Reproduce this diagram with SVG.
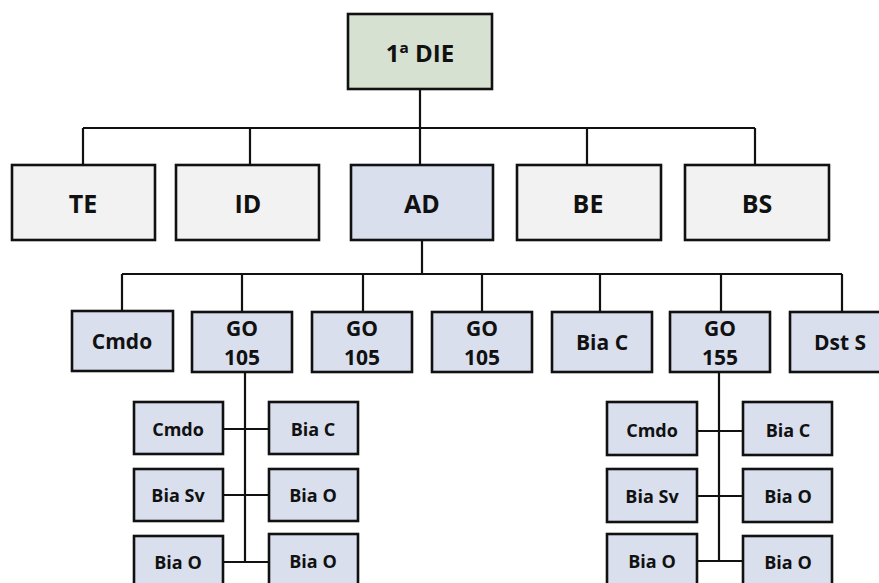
<svg xmlns="http://www.w3.org/2000/svg" width="879" height="583" viewBox="0 0 879 583">
<style>
.b{stroke:#111;stroke-width:2.6}
.g{fill:#d6e1d1}
.w{fill:#f2f2f2}
.u{fill:#d9dfed}
.t{font-family:"Open Sans","Noto Sans","DejaVu Sans",sans-serif;font-weight:bold;fill:#111;text-anchor:middle;dominant-baseline:central}
.t1{font-size:24px}
.t2{font-size:25px}
.t3{font-size:21px}
.t4{font-size:18px}
.c{stroke:#111;stroke-width:2.2;fill:none}
</style>
<rect width="879" height="583" fill="#fff"/>
<g id="connectors">
<path class="c" d="M420 89V165M83 128H755M83 128V165M250 128V165M587 128V165M755 128V165"/>
<path class="c" d="M422 240V274M122 274H842M122 274V311M242 274V312M363 274V312M482 274V312M600 274V312M721 274V312M842 274V312"/>
<path class="c" d="M245 372V562M223 429H269M223 495H269M223 562H269"/>
<path class="c" d="M719 372V562M697 431H743M697 496H743M697 561H743"/>
</g>
<g id="n-die"><rect class="b g" x="348" y="14" width="144" height="75"/><text class="t t1" x="420" y="52">1ª DIE</text></g>
<g id="n-te"><rect class="b w" x="12" y="165" width="143" height="75"/><text class="t t2" x="83" y="203">TE</text></g>
<g id="n-id"><rect class="b w" x="176" y="165" width="143" height="75"/><text class="t t2" x="248" y="203">ID</text></g>
<g id="n-ad"><rect class="b u" x="351" y="165" width="142" height="75"/><text class="t t2" x="422" y="203">AD</text></g>
<g id="n-be"><rect class="b w" x="517" y="165" width="144" height="75"/><text class="t t2" x="588" y="203">BE</text></g>
<g id="n-bs"><rect class="b w" x="685" y="165" width="144" height="75"/><text class="t t2" x="757" y="203">BS</text></g>

<g id="n-cmdo"><rect class="b u" x="72" y="311" width="101" height="60"/><text class="t t3" x="122" y="341">Cmdo</text></g>
<g id="n-go1"><rect class="b u" x="192" y="312" width="100" height="60"/><text class="t t3" x="242" y="328">GO</text><text class="t t3" x="242" y="357">105</text></g>
<g id="n-go2"><rect class="b u" x="312" y="312" width="100" height="60"/><text class="t t3" x="362" y="328">GO</text><text class="t t3" x="362" y="357">105</text></g>
<g id="n-go3"><rect class="b u" x="432" y="312" width="100" height="60"/><text class="t t3" x="482" y="328">GO</text><text class="t t3" x="482" y="357">105</text></g>
<g id="n-biac"><rect class="b u" x="552" y="312" width="100" height="60"/><text class="t t3" x="602" y="342">Bia C</text></g>
<g id="n-go155"><rect class="b u" x="670" y="312" width="100" height="60"/><text class="t t3" x="720" y="328">GO</text><text class="t t3" x="720" y="357">155</text></g>
<g id="n-dsts"><rect class="b u" x="790" y="312" width="100" height="60"/><text class="t t3" x="840" y="342">Dst S</text></g>

<g id="n-l-cmdo"><rect class="b u" x="134" y="402" width="89" height="52"/><text class="t t4" x="178" y="429">Cmdo</text></g>
<g id="n-l-biac"><rect class="b u" x="269" y="402" width="89" height="52"/><text class="t t4" x="313" y="429">Bia C</text></g>
<g id="n-l-biasv"><rect class="b u" x="134" y="469" width="89" height="52"/><text class="t t4" x="178" y="495">Bia Sv</text></g>
<g id="n-l-biao1"><rect class="b u" x="269" y="469" width="89" height="52"/><text class="t t4" x="313" y="495">Bia O</text></g>
<g id="n-l-biao2"><rect class="b u" x="134" y="536" width="89" height="52"/><text class="t t4" x="178" y="562">Bia O</text></g>
<g id="n-l-biao3"><rect class="b u" x="269" y="534" width="89" height="52"/><text class="t t4" x="313" y="561">Bia O</text></g>

<g id="n-r-cmdo"><rect class="b u" x="607" y="402" width="90" height="53"/><text class="t t4" x="652" y="430">Cmdo</text></g>
<g id="n-r-biac"><rect class="b u" x="743" y="402" width="89" height="53"/><text class="t t4" x="788" y="430">Bia C</text></g>
<g id="n-r-biasv"><rect class="b u" x="607" y="469" width="90" height="53"/><text class="t t4" x="652" y="496">Bia Sv</text></g>
<g id="n-r-biao1"><rect class="b u" x="743" y="469" width="89" height="53"/><text class="t t4" x="788" y="496">Bia O</text></g>
<g id="n-r-biao2"><rect class="b u" x="607" y="534" width="90" height="53"/><text class="t t4" x="652" y="561">Bia O</text></g>
<g id="n-r-biao3"><rect class="b u" x="743" y="536" width="89" height="53"/><text class="t t4" x="788" y="562">Bia O</text></g>
</svg>
